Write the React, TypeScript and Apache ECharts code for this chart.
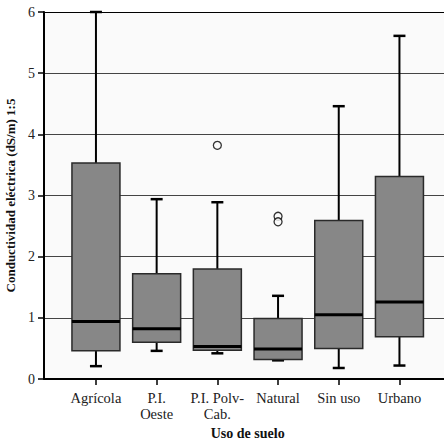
import React, { useEffect, useRef } from "react";
import * as echarts from "echarts";

const categories = ["Agrícola", "P.I.\nOeste", "P.I. Polv-\nCab.", "Natural", "Sin uso", "Urbano"];
// [low whisker, Q1, median, Q3, high whisker]
const lowWhisker = [0.21, 0.46, 0.42, 0.305, 0.18, 0.22];
const q1Values = [0.46, 0.6, 0.47, 0.32, 0.5, 0.69];
const medianValues = [0.94, 0.82, 0.53, 0.49, 1.05, 1.26];
const q3Values = [3.53, 1.72, 1.8, 0.99, 2.59, 3.31];
const highWhisker = [6.0, 2.94, 2.89, 1.36, 4.46, 5.61];
const outliers: [number, number][] = [
  [2, 3.82],
  [3, 2.66],
  [3, 2.57],
];
const yTicks = [0, 1, 2, 3, 4, 5, 6];

const FONT = "'Liberation Serif', 'Times New Roman', serif";

export default function App() {
  const ref = useRef<HTMLDivElement>(null);
  useEffect(() => {
    if (!ref.current) return;
    const chart = echarts.init(ref.current, undefined, { renderer: "svg" });
    const boxData = categories.map((_, i) => [
      i,
      lowWhisker[i],
      q1Values[i],
      medianValues[i],
      q3Values[i],
      highWhisker[i],
    ]);
    const top = 12;
    const height = 367;
    chart.setOption({
      animation: false,
      backgroundColor: "#ffffff",
      grid: [
        { left: 44, top, right: 0, height, show: true, backgroundColor: "#fafafa", borderWidth: 0, outerBoundsMode: "none", containLabel: false },
        { left: 65.6, top, width: 364.2, height, outerBoundsMode: "none", containLabel: false },
      ],
      xAxis: [
        {
          gridIndex: 0,
          type: "value",
          min: 0,
          max: 1,
          axisLine: { show: true, onZero: false, lineStyle: { color: "#000", width: 2 } },
          axisTick: { show: false },
          axisLabel: { show: false },
          splitLine: { show: false },
        },
        {
          gridIndex: 1,
          type: "category",
          data: categories,
          axisLine: { show: false },
          axisTick: { show: true, alignWithLabel: true, length: 6, lineStyle: { color: "#000", width: 1.5 } },
          axisLabel: {
            show: true,
            interval: 0,
            margin: 11,
            fontFamily: FONT,
            fontSize: 14.5,
            color: "#222",
            lineHeight: 16,
          },
          name: "Uso de suelo",
          nameLocation: "middle",
          nameGap: 45,
          nameTextStyle: { fontFamily: FONT, fontSize: 14, fontWeight: "bold", color: "#111" },
        },
      ],
      yAxis: [
        {
          gridIndex: 0,
          type: "value",
          min: yTicks[0],
          max: yTicks[yTicks.length - 1],
          interval: 1,
          axisLine: { show: true, lineStyle: { color: "#000", width: 2 } },
          axisTick: { show: true, length: 6, lineStyle: { color: "#000", width: 1.5 } },
          axisLabel: { fontFamily: FONT, fontSize: 14, color: "#222", margin: 9 },
          splitLine: {
            show: true,
            lineStyle: { color: ["#444", "#444", "#444", "#444", "#444", "#444", "#000"], width: 1.2 },
          },
          name: "Conductividad eléctrica (dS/m) 1:5",
          nameLocation: "middle",
          nameGap: 25,
          nameTextStyle: { fontFamily: FONT, fontSize: 13, fontWeight: "bold", color: "#111" },
        },
        {
          gridIndex: 1,
          type: "value",
          min: 0,
          max: 6,
          show: false,
        },
      ],
      series: [
        {
          type: "custom",
          xAxisIndex: 1,
          yAxisIndex: 1,
          data: boxData,
          encode: { x: 0, y: [1, 2, 3, 4, 5] },
          renderItem: (params: any, api: any) => {
            const idx = api.value(0);
            const lo = api.coord([idx, api.value(1)]);
            const q1 = api.coord([idx, api.value(2)]);
            const md = api.coord([idx, api.value(3)]);
            const q3 = api.coord([idx, api.value(4)]);
            const hi = api.coord([idx, api.value(5)]);
            const x = lo[0];
            const bw = 48;
            const cw = 12;
            const lineStyle = { stroke: "#000", lineWidth: 2 };
            return {
              type: "group",
              children: [
                { type: "line", shape: { x1: x, y1: q3[1], x2: x, y2: hi[1] }, style: lineStyle },
                { type: "line", shape: { x1: x, y1: lo[1], x2: x, y2: q1[1] }, style: lineStyle },
                { type: "line", shape: { x1: x - cw / 2, y1: hi[1], x2: x + cw / 2, y2: hi[1] }, style: { stroke: "#000", lineWidth: 2.5 } },
                { type: "line", shape: { x1: x - cw / 2, y1: lo[1], x2: x + cw / 2, y2: lo[1] }, style: { stroke: "#000", lineWidth: 2.5 } },
                {
                  type: "rect",
                  shape: { x: x - bw / 2, y: q3[1], width: bw, height: q1[1] - q3[1] },
                  style: { fill: "#878787", stroke: "#2a2a2a", lineWidth: 1.5 },
                },
                { type: "line", shape: { x1: x - bw / 2, y1: md[1], x2: x + bw / 2, y2: md[1] }, style: { stroke: "#000", lineWidth: 3 } },
              ],
            };
          },
          z: 3,
        },
        {
          type: "scatter",
          xAxisIndex: 1,
          yAxisIndex: 1,
          data: outliers,
          symbol: "circle",
          symbolSize: 8,
          itemStyle: { color: "#fafafa", borderColor: "#000", borderWidth: 1.3 },
          z: 4,
        },
      ],
    });
    return () => chart.dispose();
  }, []);
  return <div ref={ref} style={{ position: "absolute", left: 0, top: 0, width: 444, height: 440 }} />;
}
